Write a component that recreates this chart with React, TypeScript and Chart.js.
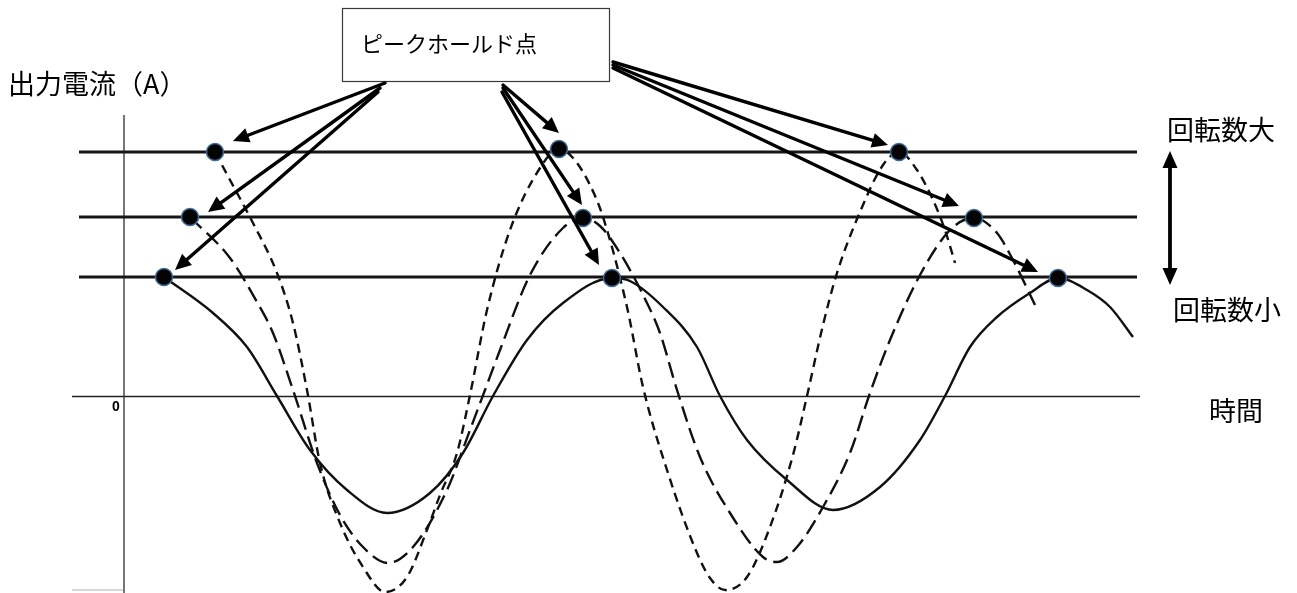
import React, { useEffect, useRef } from "react";
import { Chart, registerables } from "chart.js";

Chart.register(...registerables);

const W = 1297;
const H = 593;

// Chart units: x = time, y = output current (A)
const X_MIN = -12.4;
const X_MAX = 117.3;
const Y_MIN = -19.65;
const Y_MAX = 39.65;

// Solid curve (lowest rotation speed)
const solidX = [4.0, 8.9, 12.3, 15.3, 18.6, 22.3, 26.3, 30.6, 33.9, 36.9, 40.3, 43.9, 48.8, 50.6, 53.9, 57.3, 59.6, 62.3, 66.3, 70.9, 75.6, 79.6, 82.1, 84.6, 87.3, 90.6, 93.4, 96.3, 98.6, 100.9];
const solidY = [11.95, 8.35, 4.95, 0.05, -5.35, -9.35, -11.65, -9.65, -5.65, 0.05, 5.65, 9.35, 11.85, 11.55, 8.95, 4.95, 0.05, -4.35, -8.35, -11.35, -9.05, -4.35, 0.05, 4.95, 7.95, 10.35, 11.85, 10.65, 8.95, 5.95];

// Long-dashed curve (middle rotation speed)
const longX = [6.6, 10.6, 13.3, 14.9, 16.9, 19.3, 21.6, 23.9, 26.4, 28.9, 32.3, 34.6, 36.1, 37.6, 40.6, 43.9, 45.9, 47.6, 49.6, 52.3, 53.6, 55.3, 57.6, 60.6, 63.9, 65.3, 67.3, 69.9, 72.6, 74.6, 76.6, 79.6, 82.6, 85.0, 87.3, 88.9, 91.1];
const longY = [17.95, 13.85, 9.45, 6.35, 0.65, -6.65, -11.85, -15.05, -16.65, -15.05, -9.35, -3.35, 0.65, 4.65, 12.15, 16.85, 17.85, 17.05, 14.35, 9.35, 6.35, 0.65, -6.05, -11.65, -16.05, -16.55, -15.05, -11.05, -5.65, 0.35, 5.65, 12.15, 16.65, 17.85, 16.35, 13.65, 9.15];

// Short-dashed curve (highest rotation speed)
const shortX = [9.1, 10.6, 12.9, 15.3, 16.9, 18.3, 19.6, 21.6, 23.9, 26.1, 28.3, 30.3, 31.6, 33.3, 34.6, 36.3, 38.6, 41.6, 43.5, 44.9, 46.6, 47.9, 50.3, 51.9, 54.3, 57.3, 58.6, 60.1, 62.3, 64.6, 66.9, 68.3, 69.9, 71.3, 73.6, 75.9, 77.5, 79.3, 80.9, 82.1, 83.1];
const shortY = [24.45, 21.65, 17.35, 12.35, 7.35, 0.65, -6.65, -12.65, -17.05, -19.55, -18.05, -13.35, -9.85, -5.65, 0.15, 8.65, 16.65, 22.85, 24.75, 23.85, 21.15, 17.95, 8.95, 0.95, -7.35, -15.65, -18.15, -19.35, -18.05, -13.05, -5.85, 0.05, 7.15, 12.35, 18.45, 23.15, 24.45, 22.65, 19.65, 16.65, 13.35];

// Peak-hold points
const peakShortX = [9.1, 43.5, 77.5];
const peakShortY = [24.45, 24.75, 24.45];
const peakLongX = [6.6, 45.9, 85.0];
const peakLongY = [17.95, 17.85, 17.85];
const peakSolidX = [4.0, 48.8, 93.4];
const peakSolidY = [11.95, 11.85, 11.85];

// Peak-hold levels (horizontal lines) and axes
const levelValues = [24.45, 17.95, 11.95];
const levelStart = -4.5;
const levelEnd = 101.3;
const zeroLineX = [-5.2, 101.6];
const yAxisY = [28.15, -19.65];

// Texts
const boxLabel = "ピークホールド点";
const yTitle = "出力電流（A）";
const xTitle = "時間";
const highLabel = "回転数大";
const lowLabel = "回転数小";
const zeroLabel = "0";

const zip = (xs: number[], ys: number[]) => xs.map((x, i) => ({ x, y: ys[i] }));

const JP = '"Noto Sans CJK JP", "Noto Sans", sans-serif';

type ArrowSpec = { from: [number, number]; ds: number; idx: number; off: [number, number] };

function arrowHead(ctx: CanvasRenderingContext2D, x1: number, y1: number, x2: number, y2: number, hl: number, hw: number) {
  const ang = Math.atan2(y2 - y1, x2 - x1);
  const bx = x2 - hl * Math.cos(ang);
  const by = y2 - hl * Math.sin(ang);
  ctx.beginPath();
  ctx.moveTo(x2, y2);
  ctx.lineTo(bx + hw * Math.sin(ang), by - hw * Math.cos(ang));
  ctx.lineTo(bx - hw * Math.sin(ang), by + hw * Math.cos(ang));
  ctx.closePath();
  ctx.fill();
  return [bx + 2 * Math.cos(ang), by + 2 * Math.sin(ang)];
}

function drawArrow(ctx: CanvasRenderingContext2D, x1: number, y1: number, x2: number, y2: number, lw = 3.4, hl = 16, hw = 7.5, both = false) {
  ctx.save();
  ctx.strokeStyle = "#000";
  ctx.fillStyle = "#000";
  ctx.lineWidth = lw;
  ctx.lineCap = "round";
  const [ex, ey] = arrowHead(ctx, x1, y1, x2, y2, hl, hw);
  let sx = x1;
  let sy = y1;
  if (both) {
    const s = arrowHead(ctx, x2, y2, x1, y1, hl, hw);
    sx = s[0];
    sy = s[1];
  }
  ctx.beginPath();
  ctx.moveTo(sx, sy);
  ctx.lineTo(ex, ey);
  ctx.stroke();
  ctx.restore();
}

const annotationPlugin = {
  id: "annotations",
  afterDatasetsDraw(chart: any) {
    const ctx: CanvasRenderingContext2D = chart.ctx;
    const xs = chart.scales.x;
    const ys = chart.scales.y;
    const px = (v: number) => xs.getPixelForValue(v);
    const py = (v: number) => ys.getPixelForValue(v);

    // faint grey mark at the bottom-left
    ctx.save();
    ctx.strokeStyle = "#d8d8d8";
    ctx.lineWidth = 2;
    ctx.beginPath();
    ctx.moveTo(px(zeroLineX[0]), H - 3);
    ctx.lineTo(px(0) - 1, H - 3);
    ctx.stroke();
    ctx.restore();

    // label box
    ctx.save();
    ctx.fillStyle = "#fff";
    ctx.fillRect(342, 8, 267, 73);
    ctx.strokeStyle = "#3a3a3a";
    ctx.lineWidth = 1.2;
    ctx.strokeRect(342.5, 8.5, 267, 73);
    ctx.fillStyle = "#000";
    ctx.font = `22px ${JP}`;
    ctx.textBaseline = "middle";
    ctx.textAlign = "left";
    ctx.fillText(boxLabel, 361, 44);
    ctx.restore();

    // arrows from the box to the peak-hold points
    const peakSets = [
      zip(peakShortX, peakShortY),
      zip(peakLongX, peakLongY),
      zip(peakSolidX, peakSolidY),
    ];
    const arrows: ArrowSpec[] = [
      { from: [385, 83], ds: 0, idx: 0, off: [18, -11] },
      { from: [380, 88], ds: 1, idx: 0, off: [18, -5] },
      { from: [378, 92], ds: 2, idx: 0, off: [11, -7] },
      { from: [503, 85], ds: 0, idx: 1, off: [0, -16] },
      { from: [503, 88], ds: 1, idx: 1, off: [-1, -13] },
      { from: [502, 92], ds: 2, idx: 1, off: [-13, -13] },
      { from: [613, 62], ds: 0, idx: 2, off: [-11, -7] },
      { from: [613, 65], ds: 1, idx: 2, off: [-15, -12] },
      { from: [613, 68], ds: 2, idx: 2, off: [-20, -6] },
    ];
    for (const a of arrows) {
      const p = peakSets[a.ds][a.idx];
      drawArrow(ctx, a.from[0], a.from[1], px(p.x) + a.off[0], py(p.y) + a.off[1]);
    }

    // double arrow between the levels
    const dx = 1170;
    drawArrow(ctx, dx, py(levelValues[0]) - 1, dx, py(levelValues[2]) + 8, 3.8, 17, 7.5, true);

    // texts
    ctx.save();
    ctx.fillStyle = "#000";
    ctx.textBaseline = "middle";
    ctx.textAlign = "left";
    ctx.font = `27px ${JP}`;
    ctx.fillText(yTitle, 8, 84);
    ctx.fillText(highLabel, 1167, 130);
    ctx.fillText(lowLabel, 1173, 310);
    ctx.fillText(xTitle, 1209, 411);
    ctx.font = `bold 14px "Liberation Sans", sans-serif`;
    ctx.textAlign = "center";
    ctx.fillText(zeroLabel, px(0) - 8, py(0) + 11);
    ctx.restore();
  },
};

export default function App() {
  const ref = useRef<HTMLCanvasElement>(null);

  useEffect(() => {
    document.body.style.margin = "0";
    const levelDatasets = levelValues.map((v) => ({
      data: [
        { x: levelStart, y: v },
        { x: levelEnd, y: v },
      ],
      borderColor: "#161616",
      borderWidth: 3,
      pointRadius: 0,
      order: 3,
    }));
    const curve = (xs: number[], ys: number[], dash: number[]) => ({
      data: zip(xs, ys),
      borderColor: "#111",
      borderWidth: 2.4,
      borderDash: dash,
      pointRadius: 0,
      cubicInterpolationMode: "monotone" as const,
      order: 2,
    });
    const dots = (xs: number[], ys: number[]) => ({
      data: zip(xs, ys),
      showLine: false,
      pointRadius: 8.5,
      pointBackgroundColor: "#040404",
      pointBorderColor: "#3f6d9a",
      pointBorderWidth: 1.5,
      order: 0,
    });

    const chart = new Chart(ref.current as HTMLCanvasElement, {
      type: "line",
      data: {
        datasets: [
          ...levelDatasets,
          {
            data: zip(zeroLineX, [0, 0]),
            borderColor: "#222",
            borderWidth: 1.6,
            pointRadius: 0,
            order: 3,
          },
          {
            data: [
              { x: 0, y: yAxisY[0] },
              { x: 0, y: yAxisY[1] },
            ],
            borderColor: "#555",
            borderWidth: 1.6,
            pointRadius: 0,
            order: 3,
          },
          curve(solidX, solidY, []),
          curve(longX, longY, [16, 7]),
          curve(shortX, shortY, [9, 6]),
          dots(peakShortX, peakShortY),
          dots(peakLongX, peakLongY),
          dots(peakSolidX, peakSolidY),
        ] as any,
      },
      options: {
        animation: false,
        responsive: false,
        devicePixelRatio: 1,
        layout: { padding: 0, autoPadding: false },
        events: [],
        plugins: { legend: { display: false }, tooltip: { enabled: false } },
        scales: {
          x: { type: "linear", min: X_MIN, max: X_MAX, display: false },
          y: { type: "linear", min: Y_MIN, max: Y_MAX, display: false },
        },
      } as any,
      plugins: [annotationPlugin],
    });
    return () => chart.destroy();
  }, []);

  return (
    <div style={{ position: "absolute", left: 0, top: 0, width: W, height: H, background: "#fff" }}>
      <canvas ref={ref} width={W} height={H} style={{ display: "block", width: W, height: H }} />
    </div>
  );
}
